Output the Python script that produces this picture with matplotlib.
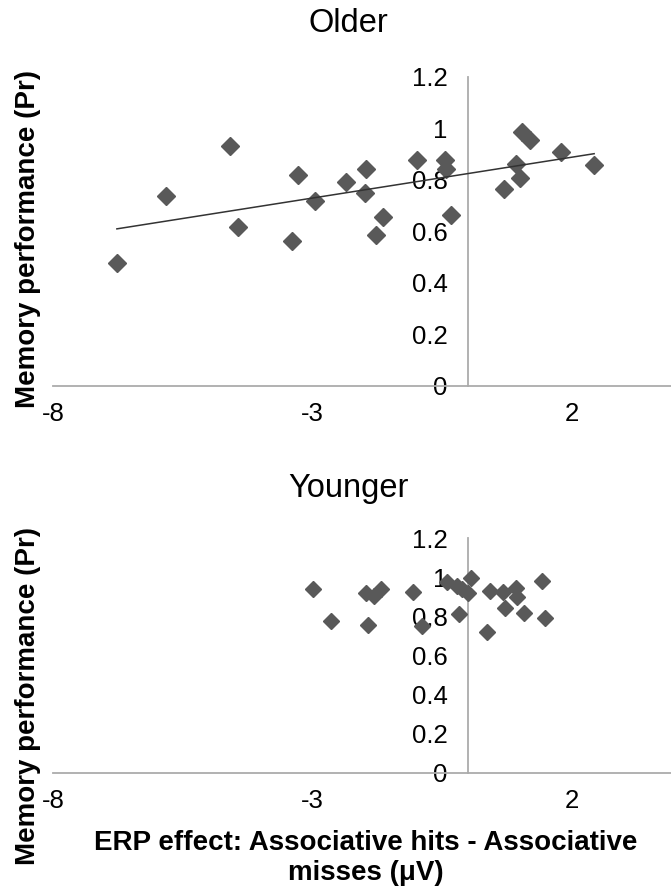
import numpy as np
import matplotlib
matplotlib.use("Agg")
import matplotlib.pyplot as plt

plt.rcParams['font.family'] = ['Liberation Sans', 'DejaVu Sans']

# Older group: ERP effect (uV) vs memory performance (Pr)
older_x = [-6.77, -5.82, -4.60, -4.43, -3.39, -3.29, -2.96, -2.35, -1.98, -1.99, -1.65, -1.79,
           -1.00, -0.46, -0.43, -0.33, 0.68, 0.92, 1.00, 1.03, 1.18, 1.79, 2.42]
older_y = [0.476, 0.738, 0.930, 0.615, 0.564, 0.820, 0.716, 0.790, 0.842, 0.748, 0.655, 0.586,
           0.878, 0.878, 0.842, 0.664, 0.764, 0.862, 0.807, 0.986, 0.953, 0.909, 0.856]

# Younger group
younger_x = [-3.00, -2.65, -1.98, -1.94, -1.81, -1.68, -1.06, -0.89, -0.42, -0.22, -0.19, -0.12,
             0.00, 0.04, 0.35, 0.42, 0.67, 0.71, 0.92, 0.94, 1.06, 1.42, 1.48]
younger_y = [0.937, 0.774, 0.919, 0.755, 0.906, 0.937, 0.923, 0.751, 0.974, 0.954, 0.811, 0.940,
             0.919, 0.995, 0.720, 0.931, 0.926, 0.842, 0.943, 0.897, 0.816, 0.978, 0.789]

x_ticks = [-8, -3, 2]
y_ticks = [0, 0.2, 0.4, 0.6, 0.8, 1.0, 1.2]
y_tick_labels = ['0', '0.2', '0.4', '0.6', '0.8', '1', '1.2']

W, H = 671, 892
fig = plt.figure(figsize=(W / 100, H / 100), dpi=100)

axis_col = '#ababab'
marker_col = '#595959'


def setup_axes(ax):
    ax.set_xlim(-8, 3.9)
    ax.set_ylim(0, 1.2)
    ax.spines['left'].set_position(('data', 0))
    ax.spines['bottom'].set_position(('data', 0))
    ax.spines['top'].set_visible(False)
    ax.spines['right'].set_visible(False)
    for s in ('left', 'bottom'):
        ax.spines[s].set_color(axis_col)
        ax.spines[s].set_linewidth(1.3)
    ax.set_xticks(x_ticks)
    ax.set_xticklabels([str(t) for t in x_ticks])
    ax.set_yticks(y_ticks)
    ax.set_yticklabels(y_tick_labels)
    ax.tick_params(axis='both', length=0, labelsize=18.5)
    ax.tick_params(axis='y', pad=15)
    ax.tick_params(axis='x', pad=12)
    ax.patch.set_visible(False)


# top panel: Older
ax1 = fig.add_axes([53 / W, (H - 385.5) / H, 618 / W, 308.5 / H])
setup_axes(ax1)
ax1.plot(older_x, older_y, 'D', color=marker_col, ms=9, mec=marker_col, zorder=3)
slope, icpt = np.polyfit(older_x, older_y, 1)
xl = np.array([min(older_x), max(older_x)])
ax1.plot(xl, slope * xl + icpt, color='#333333', lw=1.1, zorder=4)
fig.text(348 / W, 1 - 24 / H, 'Older', ha='center', va='center', fontsize=23.5)
fig.text(28 / W, 1 - 239 / H, 'Memory performance (Pr)', rotation=90, ha='center',
         va='center', fontsize=20, fontweight='bold')

# bottom panel: Younger
ax2 = fig.add_axes([53 / W, (H - 772.7) / H, 618 / W, 234.7 / H])
setup_axes(ax2)
ax2.plot(younger_x, younger_y, 'D', color=marker_col, ms=8.5, mec=marker_col, zorder=3)
fig.text(348 / W, 1 - 488 / H, 'Younger', ha='center', va='center', fontsize=23.5)
fig.text(28 / W, 1 - 696 / H, 'Memory performance (Pr)', rotation=90, ha='center',
         va='center', fontsize=20, fontweight='bold')
fig.text(366 / W, 1 - 858 / H, 'ERP effect: Associative hits - Associative\nmisses (\u03bcV)',
         ha='center', va='center', fontsize=20, fontweight='bold', linespacing=1.25)

fig.savefig('out.png', dpi=100)
